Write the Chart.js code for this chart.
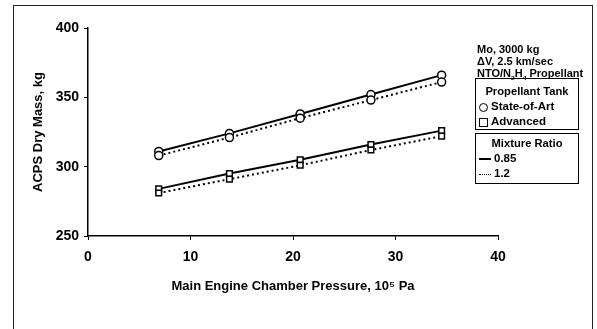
<!DOCTYPE html>
<html lang="en">
<head>
  <meta charset="UTF-8">
  <title>ACPS Dry Mass</title>
  <script src="https://cdn.jsdelivr.net/npm/chart.js"></script>
  <style>
    body {
      margin: 0;
      background: #fff;
      font-family: "Liberation Sans", Arial, sans-serif;
    }
    #wrap {
      position: relative;
      width: 597px;
      height: 329px;
      overflow: hidden;
    }
    /* scanned page frame */
    #frame {
      position: absolute;
      left: 13px;
      top: 5px;
      width: 578px;
      height: 340px;
      border: 1px solid #222;
    }
    .note {
      position: absolute;
      left: 477px;
      top: 44px;
      font-size: 10px;
      font-weight: bold;
      line-height: 12px;
      white-space: nowrap;
      transform: scaleX(1.1);
      transform-origin: left top;
    }
    .box {
      position: absolute;
      left: 475px;
      width: 102px;
      border: 1px solid #000;
      font-size: 10px;
      font-weight: bold;
    }
    .box .head {
      position: absolute;
      left: 0;
      width: 100%;
      text-align: center;
      line-height: 12px;
      white-space: nowrap;
      transform: scaleX(1.12);
    }
    .box .row {
      position: absolute;
      left: 3px;
      line-height: 12px;
      display: flex;
      align-items: center;
      white-space: nowrap;
    }
    .row .txt {
      display: inline-block;
      transform: scaleX(1.15);
      transform-origin: left center;
    }
    .sym {
      display: inline-block;
      margin-right: 3px;
      box-sizing: border-box;
    }
    .circ { width: 9px; height: 9px; border: 1.5px solid #000; border-radius: 50%; }
    .sq { width: 9px; height: 9px; border: 1.5px solid #000; }
    .solid { width: 12px; height: 0; border-top: 2px solid #000; }
    .dot { width: 12px; height: 0; border-top: 1.5px dotted #000; }
  </style>
</head>
<body>
  <div id="wrap">
    <canvas id="myChart"></canvas>
    <div id="frame"></div>

    <div class="note">Mo, 3000 kg<br>&Delta;V, 2.5 km/sec<br>NTO/N<sub style="font-size:6px">2</sub>H<sub style="font-size:6px">4</sub> Propellant</div>

    <!-- Propellant tank legend -->
    <div class="box" style="top:78px; height:50px;">
      <div class="head" style="top:7px;">Propellant Tank</div>
      <div class="row" style="top:22px;"><span class="sym circ"></span><span class="txt">State-of-Art</span></div>
      <div class="row" style="top:37px;"><span class="sym sq"></span><span class="txt">Advanced</span></div>
    </div>

    <!-- Mixture ratio legend -->
    <div class="box" style="top:133px; height:49px;">
      <div class="head" style="top:4px;">Mixture Ratio</div>
      <div class="row" style="top:19px;"><span class="sym solid"></span><span class="txt">0.85</span></div>
      <div class="row" style="top:34px;"><span class="sym dot"></span><span class="txt">1.2</span></div>
    </div>
  </div>

  <script>
    // chamber pressure, 10^5 Pa
    const pressure = [6.9, 13.8, 20.7, 27.6, 34.5];

    // dry mass, kg
    const soa085 = [311, 324, 338, 352, 366];
    const soa12 = [308, 321, 335, 348, 361];
    const adv085 = [284, 295, 305, 316, 326];
    const adv12 = [281, 291, 301, 312, 322];

    const xTicks = [0, 10, 20, 30, 40];
    const yTicks = [250, 300, 350, 400];

    function pts(ys) {
      return pressure.map((x, i) => ({ x: x, y: ys[i] }));
    }

    function series(label, ys, shape, dotted) {
      return {
        label: label,
        data: pts(ys),
        borderColor: '#000',
        borderWidth: 2,
        borderDash: dotted ? [2, 3] : [],
        pointStyle: shape,
        pointRadius: 4,
        pointBorderWidth: 1.5,
        pointBorderColor: '#000',
        pointBackgroundColor: '#fff',
        fill: false,
        tension: 0
      };
    }

    const tickFont = { family: '"Liberation Sans", Arial, sans-serif', size: 14, weight: 'bold' };
    const titleFont = { family: '"Liberation Sans", Arial, sans-serif', size: 13, weight: 'bold' };

    const ctx = document.getElementById('myChart').getContext('2d');
    const myChart = new Chart(ctx, {
      type: 'line',
      data: {
        datasets: [
          series('State-of-Art, 1.2', soa12, 'circle', true),
          series('Advanced, 1.2', adv12, 'rect', true),
          series('State-of-Art, 0.85', soa085, 'circle', false),
          series('Advanced, 0.85', adv085, 'rect', false)
        ]
      },
      options: {
        responsive: true,
        maintainAspectRatio: false,
        animation: false,
        layout: { padding: { left: 0, right: 99, top: 28, bottom: 0 } },
        plugins: {
          legend: { display: false },
          tooltip: { enabled: false }
        },
        scales: {
          x: {
            type: 'linear',
            min: 0,
            max: 40,
            afterFit: s => { s.height = 93; },
            afterBuildTicks: s => { s.ticks = xTicks.map(v => ({ value: v })); },
            grid: { drawOnChartArea: false, drawTicks: true, tickLength: 4, color: '#000' },
            border: { display: true, color: '#000', width: 1.5 },
            ticks: { color: '#000', font: tickFont, padding: 9, maxRotation: 0 },
            title: {
              display: true,
              text: 'Main Engine Chamber Pressure, 10\u2075 Pa',
              color: '#000',
              font: titleFont,
              padding: { top: 0, bottom: 35 }
            }
          },
          y: {
            min: 250,
            max: 400,
            afterFit: s => { s.width = 88; },
            afterBuildTicks: s => { s.ticks = yTicks.map(v => ({ value: v })); },
            grid: { drawOnChartArea: false, drawTicks: true, tickLength: 4, color: '#000' },
            border: { display: true, color: '#000', width: 1.5 },
            ticks: { color: '#000', font: tickFont, padding: 5 },
            title: {
              display: true,
              text: 'ACPS Dry Mass, kg',
              color: '#000',
              font: titleFont,
              padding: { top: 31, bottom: 0 }
            }
          }
        }
      }
    });
  </script>
</body>
</html>
